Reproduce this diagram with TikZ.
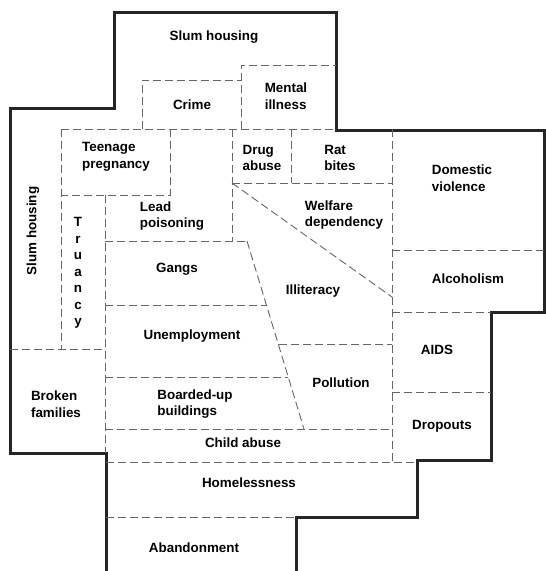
\documentclass[tikz,border=0pt]{standalone}
\usepackage{fontspec}
\setmainfont{Liberation Sans}
\usetikzlibrary{positioning}

\begin{document}
\begin{tikzpicture}[x=1pt, y=-1pt,
    wall/.style={line width=3pt, black!85, line join=miter},
    part/.style={black!60, line width=0.9pt, dash pattern=on 8pt off 4pt},
    every node/.append style={font=\bfseries\fontsize{13.4}{16.5}\selectfont, align=left, inner sep=0pt}]
    \useasboundingbox (0,0) rectangle (546,571);
    % outer border
    \draw[wall] (106,571) -- (106,453) -- (10,453) -- (10,108) -- (114,108) -- (114,12)
      -- (336,12) -- (336,130) -- (544,130) -- (544,312) -- (491,312) -- (491,460)
      -- (417,460) -- (417,517) -- (296,517) -- (296,571);
    % inner parts
    \draw[part] (142,129) -- (142,80) -- (241,80);
    \draw[part] (241,129) -- (241,65) -- (336,65);
    \draw[part] (61,129) -- (336,129);
    \draw[part] (61,129) -- (61,349);
    \draw[part] (170,129) -- (170,195) -- (61,195);
    \draw[part] (105,195) -- (105,453);
    \draw[part] (232,129) -- (232,241);
    \draw[part] (105,241) -- (247,241);
    \draw[part] (291,129) -- (291,183);
    \draw[part] (232,183) -- (392,183);
    \draw[part] (392,129) -- (392,462);
    \draw[part] (232,183) -- (392,297);
    \draw[part] (392,250) -- (544,250);
    \draw[part] (392,312) -- (491,312);
    \draw[part] (105,305) -- (266,305);
    \draw[part] (247,241) -- (304,429);
    \draw[part] (279,344) -- (392,344);
    \draw[part] (105,377) -- (288,377);
    \draw[part] (105,429) -- (392,429);
    \draw[part] (106,462) -- (417,462);
    \draw[part] (106,517) -- (296,517);
    \draw[part] (392,392) -- (491,392);
    \draw[part] (10,349) -- (105,349);
    % labels
    \node (slumtop) at (214,37) {Slum housing};
    \node (crime) at (192,105) {Crime};
    \node (mental) at (286,96) {Mental\\illness};
    \node (teenage) at (116,157) {Teenage\\pregnancy};
    \node (drug) at (262,158) {Drug\\abuse};
    \node (rat) at (340,158) {Rat\\bites};
    \node (domestic) at (462,178) {Domestic\\violence};
    \node (slumleft) [rotate=90] at (33,231) {Slum housing};
    \node (truancy) [align=center] at (78,273) {T\\r\\u\\a\\n\\c\\y};
    \node (lead) at (172,216) {Lead\\poisoning};
    \node (welfare) at (344,215) {Welfare\\dependency};
    \node (gangs) at (177,269) {Gangs};
    \node (illiteracy) at (313,291) {Illiteracy};
    \node (alcoholism) at (468,279) {Alcoholism};
    \node (aids) at (437,350) {AIDS};
    \node (unemployment) at (192,336) {Unemployment};
    \node (pollution) at (341,383) {Pollution};
    \node (broken) at (56,404) {Broken\\families};
    \node (boarded) at (195,404) {Boarded-up\\buildings};
    \node (childabuse) at (243,443) {Child abuse};
    \node (dropouts) at (442,426) {Dropouts};
    \node (homeless) at (249,483) {Homelessness};
    \node (abandon) at (194,548) {Abandonment};
\end{tikzpicture}
\end{document}
